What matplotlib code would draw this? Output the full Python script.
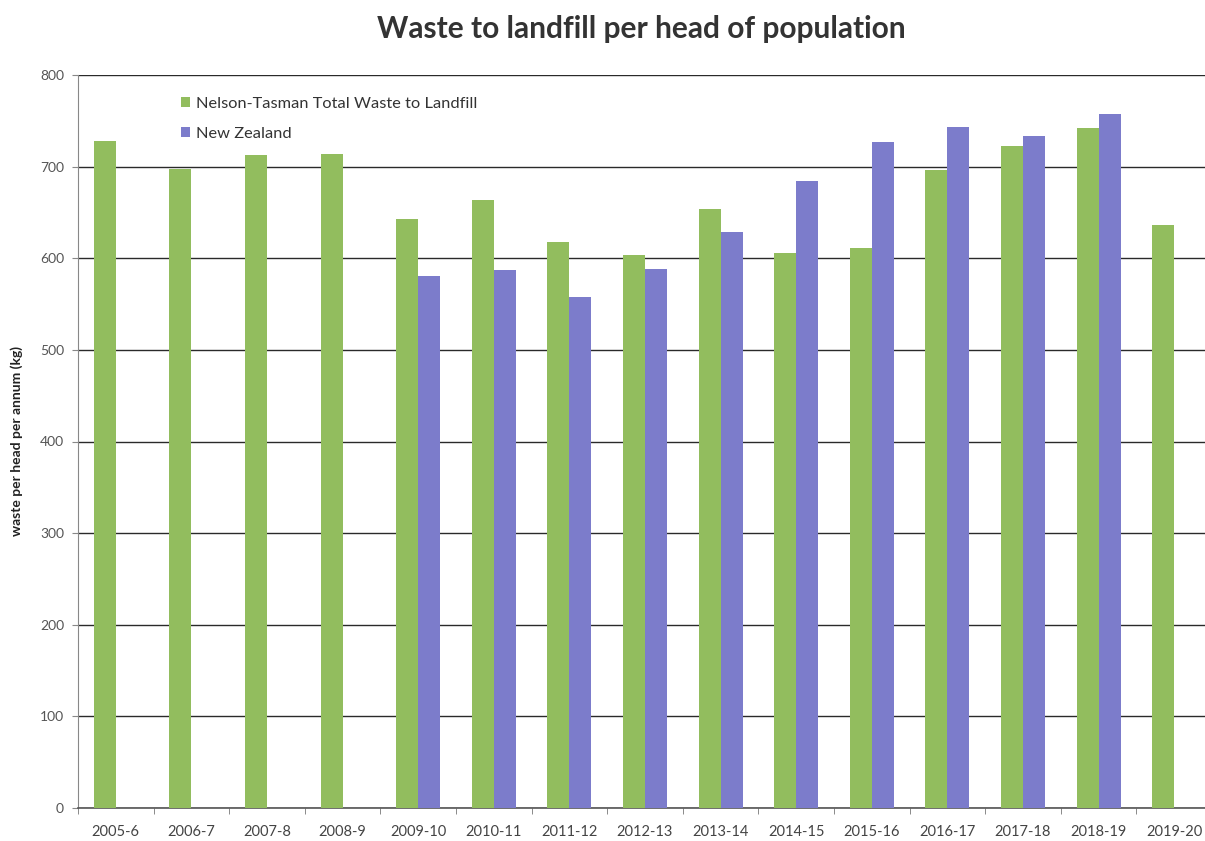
import matplotlib
matplotlib.use("Agg")
import matplotlib.pyplot as plt
import numpy as np

categories = ["2005-6", "2006-7", "2007-8", "2008-9", "2009-10", "2010-11", "2011-12",
              "2012-13", "2013-14", "2014-15", "2015-16", "2016-17", "2017-18", "2018-19", "2019-20"]
nelson_tasman = [728, 697, 713, 714, 643, 664, 618, 604, 654, 606, 611, 696, 722, 742, 636]
new_zealand = [np.nan, np.nan, np.nan, np.nan, 581, 587, 558, 588, 629, 684, 727, 743, 733, 757, np.nan]
series_names = ["Nelson-Tasman Total Waste to Landfill", "New Zealand"]
yticks = [0, 100, 200, 300, 400, 500, 600, 700, 800]

green = "#92bd5e"
blue = "#7c7ccb"

plt.rcParams['font.family'] = ['Lato', 'DejaVu Sans']

fig = plt.figure(figsize=(12.05, 8.41), dpi=100)
W, H = 1205, 841
left, right, top, bottom = 78, 1212, 75, 808
ax = fig.add_axes([left / W, (H - bottom) / H, (right - left) / W, (bottom - top) / H])

x = np.arange(len(categories))
bw = 0.29
ax.bar(x - bw / 2, nelson_tasman, bw, color=green, label=series_names[0], zorder=3)
ax.bar(x + bw / 2, new_zealand, bw, color=blue, label=series_names[1], zorder=3)

ax.set_xlim(-0.5, len(categories) - 0.5)
ax.set_ylim(0, 800)
ax.set_yticks(yticks)
ax.set_yticklabels([str(v) for v in yticks], fontsize=10, color="#555555")
ax.yaxis.grid(True, color="#2a2a2a", linewidth=1.0, zorder=0)
ax.set_axisbelow(True)

ax.set_xticks(x)
ax.set_xticklabels(categories, fontsize=10.5, color="#444444")
ax.set_xticks(np.arange(-0.5, len(categories), 1), minor=True)
ax.tick_params(axis='x', which='major', length=0, pad=12)
ax.tick_params(axis='x', which='minor', length=4, color="#777777", direction='out')
ax.tick_params(axis='y', which='major', length=4, color="#888888", pad=6)

for s in ["top", "right"]:
    ax.spines[s].set_visible(False)
ax.spines["left"].set_color("#888888")
ax.spines["bottom"].set_color("#555555")
ax.spines["bottom"].set_linewidth(1.2)

ax.set_ylabel("waste per head per annum (kg)", fontsize=10, fontweight='bold', color="#222222", labelpad=12)

leg = ax.legend(loc="upper left", bbox_to_anchor=(0.078, 0.99), frameon=False, fontsize=11.8,
                handlelength=0.55, handleheight=0.55, handletextpad=0.35, labelspacing=0.95,
                labelcolor="#333333")

fig.text(0.532, 0.966, "Waste to landfill per head of population", ha='center', va='center',
         fontsize=21.5, fontweight='bold', color="#333333")

fig.savefig("out.png", dpi=100)
